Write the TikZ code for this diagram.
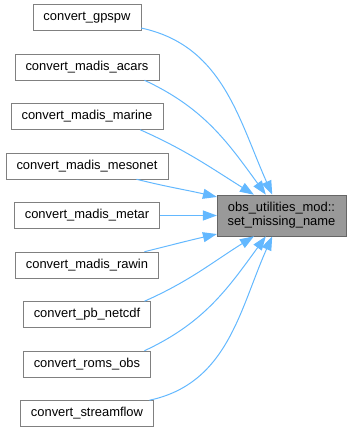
\documentclass[tikz,border=0pt]{standalone}
\usepackage{fontspec}
\setmainfont{Liberation Sans}
\usetikzlibrary{arrows.meta}

\definecolor{callblue}{HTML}{63B8FF}
\definecolor{boxframe}{HTML}{808080}
\definecolor{hotframe}{HTML}{666666}
\definecolor{hotfill}{HTML}{999999}

\tikzset{
  fn/.style={draw=boxframe, fill=white, font=\fontsize{9.7}{10.5}\selectfont,
    inner xsep=7.8pt, inner ysep=0pt, minimum height=19.5pt},
  hot/.style={fn, draw=hotframe, fill=hotfill, align=center, minimum height=30.75pt},
  call/.style={draw=callblue, line width=0.75pt, -{Triangle[length=10.5pt,width=7.5pt]}}
}

\begin{document}
\begin{tikzpicture}[x=0.75pt,y=-0.75pt]
\useasboundingbox (0,0) rectangle (352,431);
\node (setname) at (281.5,215.5) [hot] {obs\_utilities\_mod::\\set\_missing\_name}
[grow=left, level distance=145.9pt, sibling distance=37.125pt,
 edge from parent/.style={draw=none}]
child {node (gpspw) [fn] {convert\_gpspw}}
child {node (acars) [fn] {convert\_madis\_acars}}
child {node (marine) [fn] {convert\_madis\_marine}}
child {node (mesonet) [fn] {convert\_madis\_mesonet}}
child {node (metar) [fn] {convert\_madis\_metar}}
child {node (rawin) [fn] {convert\_madis\_rawin}}
child {node (netcdf) [fn] {convert\_pb\_netcdf}}
child {node (roms) [fn] {convert\_roms\_obs}}
child {node (streamflow) [fn] {convert\_streamflow}};
% callers into set_missing_name
\draw[call] (gpspw.-11) to[out=-12, in=114] (setname.114);
\draw[call] (acars.-13) to[out=-25, in=126] (setname.127);
\draw[call] (marine.-14) to[out=-24, in=148] (setname.143);
\draw[call] (mesonet.-15) to[out=-14, in=167] (setname.164);
\draw[call] (metar.east) -- (setname.west);
\draw[call] (rawin.13) to[out=14, in=-167] (setname.196);
\draw[call] (netcdf.13) to[out=24, in=-148] (setname.217);
\draw[call] (roms.13) to[out=25, in=-126] (setname.233);
\draw[call] (streamflow.12) to[out=12, in=-114] (setname.246);
\end{tikzpicture}
\end{document}
